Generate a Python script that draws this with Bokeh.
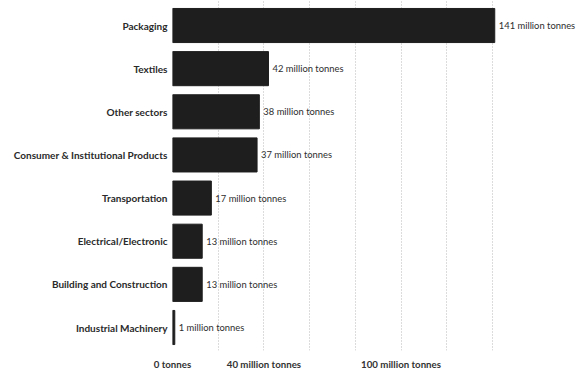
from bokeh.plotting import figure
from bokeh.models import ColumnDataSource, FixedTicker, Range1d
from bokeh.core.properties import value
from bokeh.embed import file_html
from bokeh.resources import INLINE

categories = ["Packaging", "Textiles", "Other sectors", "Consumer & Institutional Products",
              "Transportation", "Electrical/Electronic", "Building and Construction",
              "Industrial Machinery"]
values = [141, 42, 38, 37, 17, 13, 13, 1]
value_labels = [f"{v} million tonnes" for v in values]
x_tick_values = [0, 40, 100]
x_tick_labels = {0: "0 tonnes", 40: "40 million tonnes", 100: "100 million tonnes"}
grid_values = [0, 20, 40, 60, 80, 100, 120, 140]

n = len(categories)
ypos = [n - 1 - i for i in range(n)]
src = ColumnDataSource(dict(y=ypos, v=values, lab=value_labels))

p = figure(width=577, height=373, output_backend="svg", toolbar_location=None,
           x_range=Range1d(0, 177.2), y_range=Range1d(-0.533, 7.58),
           min_border_left=172, min_border_right=0, min_border_top=0, min_border_bottom=23)
p.outline_line_color = None
p.background_fill_color = "white"
p.border_fill_color = "white"

p.hbar(y="y", right="v", left=0, height=0.79, source=src,
       fill_color="#1e1e1e", line_color="#1e1e1e")
p.text(x="v", y="y", text="lab", source=src, x_offset=4,
       text_baseline="middle", text_align="left", text_font=value("Lato"),
       text_font_size="9.4px", text_color="#2e2e2e")

p.ygrid.visible = False
p.xgrid.ticker = FixedTicker(ticks=grid_values)
p.xgrid.grid_line_color = "#b8b8b8"
p.xgrid.grid_line_dash = "1 2"
p.xgrid.grid_line_width = 1

p.xaxis.ticker = FixedTicker(ticks=x_tick_values)
p.xaxis.major_label_overrides = x_tick_labels
p.xaxis.axis_line_color = None
p.xaxis.major_tick_line_color = None
p.xaxis.minor_tick_line_color = None
p.xaxis.major_tick_out = 0
p.xaxis.major_label_standoff = 7
p.xaxis.major_label_text_font = "Lato"
p.xaxis.major_label_text_font_style = "bold"
p.xaxis.major_label_text_font_size = "9.7px"
p.xaxis.major_label_text_color = "#333333"

p.yaxis.ticker = FixedTicker(ticks=ypos)
p.yaxis.major_label_overrides = {y: c for y, c in zip(ypos, categories)}
p.yaxis.axis_line_color = None
p.yaxis.major_tick_line_color = None
p.yaxis.minor_tick_line_color = None
p.yaxis.major_tick_out = 0
p.yaxis.major_label_standoff = 5
p.yaxis.major_label_text_font = "Lato"
p.yaxis.major_label_text_font_style = "bold"
p.yaxis.major_label_text_font_size = "10px"
p.yaxis.major_label_text_color = "#2a2a2a"

open("out.html", "w").write(file_html(p, INLINE))
